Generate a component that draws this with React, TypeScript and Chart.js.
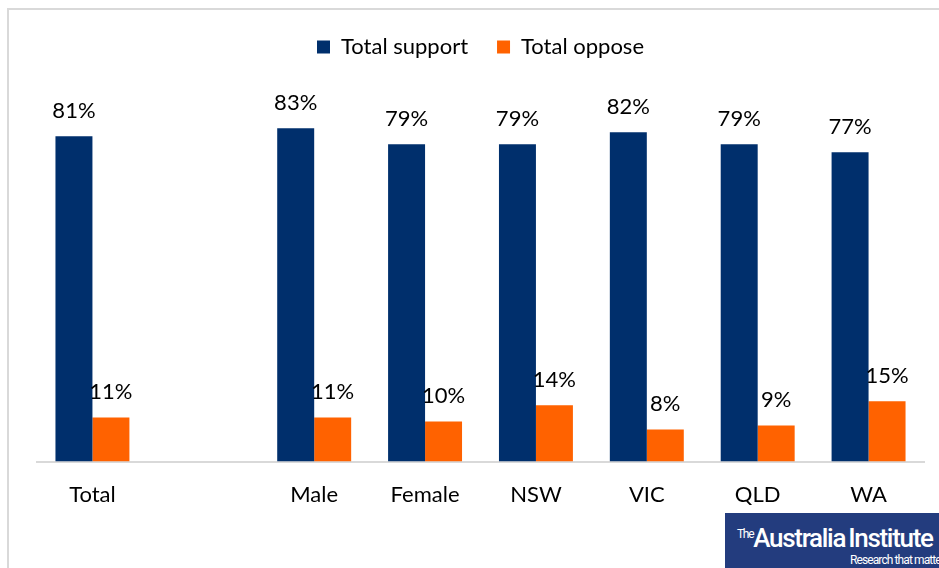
import React, { useEffect, useRef } from "react";
import { Chart, registerables } from "chart.js";

Chart.register(...registerables);

const categories = ["Total", "", "Male", "Female", "NSW", "VIC", "QLD", "WA"];
const supportValues = [81, null, 83, 79, 79, 82, 79, 77];
const opposeValues = [11, null, 11, 10, 14, 8, 9, 15];
const seriesNames = ["Total support", "Total oppose"];

const NAVY = "#002f6c";
const ORANGE = "#ff6200";
const FONT = "Lato, 'Open Sans', sans-serif";

const valueLabels = {
  id: "valueLabels",
  afterDatasetsDraw(chart: any) {
    const ctx = chart.ctx;
    ctx.save();
    ctx.font = `22px ${FONT}`;
    ctx.fillStyle = "#000";
    ctx.textAlign = "center";
    ctx.textBaseline = "alphabetic";
    chart.data.datasets.forEach((ds: any, i: number) => {
      const meta = chart.getDatasetMeta(i);
      meta.data.forEach((el: any, j: number) => {
        const v = ds.data[j];
        if (v === null || v === undefined) return;
        ctx.fillText(`${v}%`, el.x, el.y - 18);
      });
    });
    ctx.restore();
  },
};

export default function App() {
  const ref = useRef<HTMLCanvasElement | null>(null);

  useEffect(() => {
    document.body.style.margin = "0";
    const chart = new Chart(ref.current as HTMLCanvasElement, {
      type: "bar",
      data: {
        labels: categories,
        datasets: [
          {
            label: seriesNames[0],
            data: supportValues,
            backgroundColor: NAVY,
            categoryPercentage: 0.667,
            barPercentage: 1,
          },
          {
            label: seriesNames[1],
            data: opposeValues,
            backgroundColor: ORANGE,
            categoryPercentage: 0.667,
            barPercentage: 1,
          },
        ],
      },
      options: {
        animation: false,
        responsive: false,
        maintainAspectRatio: false,
        layout: { padding: { left: 37, right: 15, top: 7, bottom: 40 } },
        plugins: {
          legend: {
            display: true,
            position: "top",
            labels: {
              boxWidth: 13,
              boxHeight: 13,
              padding: 29,
              color: "#000",
              font: { family: FONT, size: 22 },
            },
          },
          tooltip: { enabled: false },
        },
        scales: {
          x: {
            grid: { display: false, drawTicks: false },
            border: { display: true, color: "#d9d9d9", width: 2 },
            ticks: {
              color: "#000",
              padding: 20,
              font: { family: FONT, size: 22 },
              maxRotation: 0,
              autoSkip: false,
            },
          },
          y: {
            display: false,
            min: 0,
            max: 98,
          },
        },
      },
      plugins: [valueLabels],
    });
    return () => chart.destroy();
  }, []);

  return (
    <div style={{ position: "relative", width: 939, height: 568, overflow: "hidden", background: "#fff" }}>
      <div
        style={{
          position: "absolute",
          left: 7,
          top: 8,
          width: 1200,
          height: 1200,
          borderLeft: "2px solid #d9d9d9",
          borderTop: "2px solid #d9d9d9",
          boxSizing: "border-box",
        }}
      />
      <canvas ref={ref} width={939} height={568} style={{ position: "absolute", left: 0, top: 0 }} />
      <div
        style={{
          position: "absolute",
          left: 725,
          top: 513,
          width: 214,
          height: 55,
          background: "#233c7e",
          color: "#fff",
          overflow: "hidden",
          fontFamily: "Roboto, 'Open Sans', sans-serif",
        }}
      >
        <div style={{ position: "absolute", left: 12, top: 10, whiteSpace: "nowrap", letterSpacing: -1.3 }}>
          <span style={{ fontSize: 12, verticalAlign: 9 }}>The</span>
          <span style={{ fontSize: 26, fontWeight: 500 }}>Australia</span>
          <span style={{ fontSize: 26, fontWeight: 500, marginLeft: 3 }}>Institute</span>
        </div>
        <div style={{ position: "absolute", left: 125, top: 40, fontSize: 12, whiteSpace: "nowrap", letterSpacing: -0.9 }}>
          Research that matters
        </div>
      </div>
    </div>
  );
}
